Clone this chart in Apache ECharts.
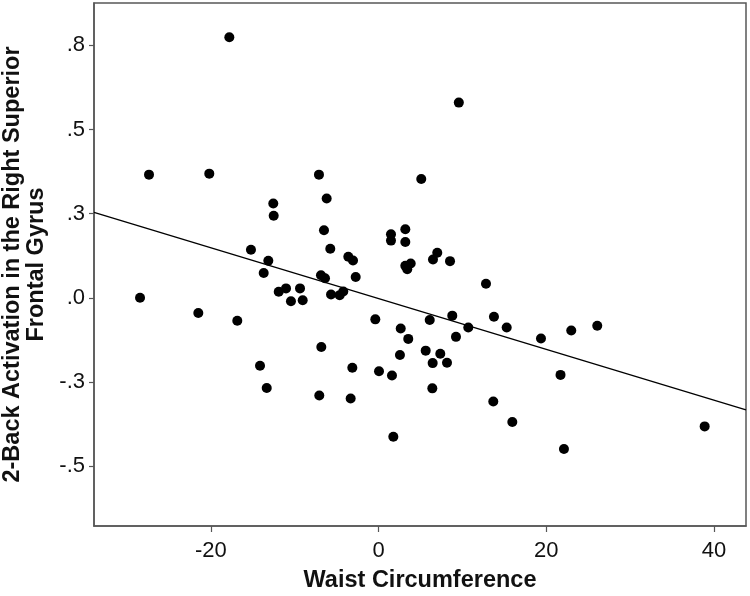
<!DOCTYPE html>
<html>
<head>
<meta charset="utf-8">
<script src="https://cdn.jsdelivr.net/npm/echarts@6/dist/echarts.min.js"></script>
<style>
html,body{margin:0;padding:0;background:#fff;}
#chart{width:750px;height:596px;}
</style>
</head>
<body>
<div id="chart"></div>
<script>
// Waist circumference (x) values
var waist = [
  -28.44, -27.37, -17.79, -20.18, -21.49, -16.84, -15.21, -13.69, -13.14, -12.55,
  -12.50, -11.90, -11.03, -10.44, -9.36, -9.04, -14.13, -13.33, -7.10, -6.50,
  -6.18, -5.75, -6.86, -6.38, -5.66, -6.82, -7.06, -4.63, -4.20, -3.60,
  -3.04, -2.72, -3.12, -3.32, 1.49, 1.49, 3.20, 3.20, 3.20, 3.43,
  3.84, 5.10, 6.50, 7.01, 8.53, 9.58, 12.82, -0.38, 0.06, 1.61,
  1.77, 2.65, 2.56, 3.55, 5.63, 6.11, 6.42, 6.46, 7.37, 8.17,
  8.80, 9.24, 10.71, 13.77, 13.69, 15.29, 15.96, 19.38, 21.71, 22.12,
  22.99, 26.09, 38.90
];
// 2-back activation (y) values
var activation = [
  0.000, 0.366, 0.774, 0.369, -0.045, -0.068, 0.143, 0.074, 0.110, 0.280,
  0.244, 0.018, 0.028, -0.010, 0.028, -0.007, -0.202, -0.268, 0.366, 0.201,
  0.295, 0.146, 0.067, 0.058, 0.010, -0.146, -0.290, 0.008, 0.019, 0.122,
  0.111, 0.062, -0.208, -0.299, 0.189, 0.170, 0.204, 0.166, 0.095, 0.085,
  0.102, 0.353, 0.114, 0.134, 0.109, 0.580, 0.042, -0.064, -0.218, -0.231,
  -0.413, -0.091, -0.170, -0.122, -0.157, -0.066, -0.269, -0.194, -0.166, -0.193,
  -0.053, -0.116, -0.088, -0.056, -0.308, -0.088, -0.369, -0.121, -0.229, -0.449,
  -0.097, -0.083, -0.382
];
// Fit line endpoints
var fitX = [-33.93, 43.83];
var fitY = [0.254, -0.333];
// Axis ticks and labels
var xTickValues = [-20, 0, 20, 40];
var xTickLabels = ['-20', '0', '20', '40'];
var yTickValues = [-0.5, -0.25, 0, 0.25, 0.5, 0.75];
var yTickLabels = ['-.5', '-.3', '.0', '.3', '.5', '.8'];
var xRange = [-33.93, 43.83];
var yRange = [-0.678, 0.876];

var points = waist.map(function (x, i) { return [x, activation[i]]; });
var fitLine = fitX.map(function (x, i) { return [x, fitY[i]]; });

var chart = echarts.init(document.getElementById('chart'), null, {renderer: 'canvas'});
var axisColor = '#575757';
var font = 'Liberation Sans, Arial, sans-serif';
chart.setOption({
  animation: false,
  backgroundColor: '#ffffff',
  grid: {
    left: 94, right: 4, top: 3, bottom: 70,
    containLabel: false,
    outerBoundsMode: 'none',
    show: true, borderColor: axisColor, borderWidth: 1.5, backgroundColor: '#ffffff'
  },
  xAxis: {
    type: 'value',
    min: xRange[0], max: xRange[1],
    splitLine: {show: false},
    axisLine: {show: true, onZero: false, lineStyle: {color: axisColor, width: 1.5}},
    axisTick: {show: true, length: 6, customValues: xTickValues, lineStyle: {color: axisColor, width: 1.2}},
    axisLabel: {
      customValues: xTickValues, margin: 14,
      fontFamily: font, fontSize: 22, color: '#111',
      formatter: function (v) { var i = xTickValues.indexOf(v); return i >= 0 ? xTickLabels[i] : ''; }
    },
    name: 'Waist Circumference',
    nameLocation: 'middle',
    nameGap: 43,
    nameTextStyle: {fontFamily: font, fontSize: 23.5, fontWeight: 'bold', color: '#111'}
  },
  yAxis: {
    type: 'value',
    min: yRange[0], max: yRange[1],
    splitLine: {show: false},
    axisLine: {show: true, onZero: false, lineStyle: {color: axisColor, width: 1.5}},
    axisTick: {show: true, length: 5, customValues: yTickValues, lineStyle: {color: axisColor, width: 1.2}},
    axisLabel: {
      customValues: yTickValues, margin: 9,
      fontFamily: font, fontSize: 22, color: '#111',
      formatter: function (v) {
        for (var i = 0; i < yTickValues.length; i++) { if (Math.abs(yTickValues[i] - v) < 1e-9) return yTickLabels[i]; }
        return '';
      }
    },
    name: '2-Back Activation in the Right Superior\nFrontal Gyrus',
    nameLocation: 'middle',
    nameRotate: 90,
    nameGap: 45,
    nameTextStyle: {fontFamily: font, fontSize: 23.5, fontWeight: 'bold', color: '#111', lineHeight: 24, align: 'center'}
  },
  series: [
    {
      type: 'scatter',
      data: points,
      symbol: 'circle',
      symbolSize: 10,
      itemStyle: {color: '#000000', opacity: 1},
      z: 3
    },
    {
      type: 'line',
      data: fitLine,
      symbol: 'none',
      lineStyle: {color: '#000000', width: 1.3},
      z: 2
    }
  ]
});
</script>
</body>
</html>
